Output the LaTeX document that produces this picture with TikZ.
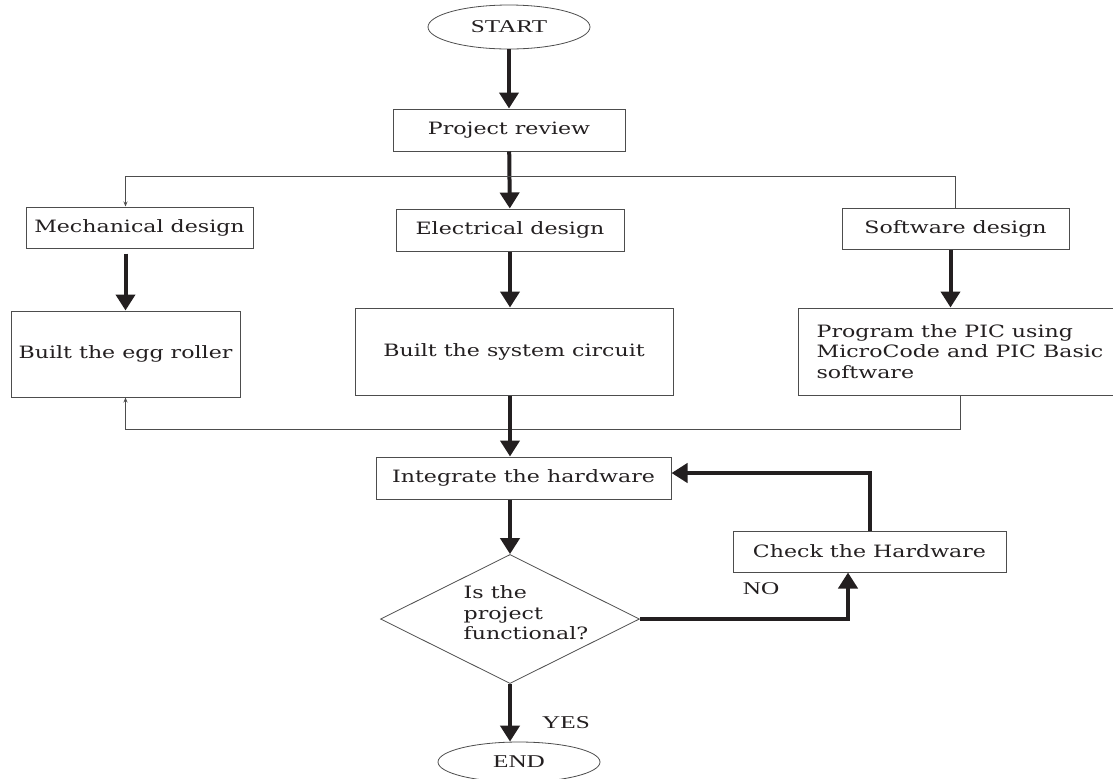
\documentclass[tikz,border=0pt]{standalone}
\usepackage{fontspec}
\usepackage{tikz}
\usetikzlibrary{shapes.geometric,arrows.meta}
\newfontfamily\boxfont{DejaVu Serif}[FakeStretch=1.3]
\newfontfamily\termfont{Liberation Serif}[FakeStretch=1.4]
\definecolor{ink}{HTML}{231F20}
\definecolor{rule}{HTML}{4D4D4D}
\tikzset{
  box/.style={draw=rule,line width=0.5pt,rectangle,inner sep=0pt,text=ink,
    font=\boxfont\fontsize{8.5}{10.25}\selectfont},
  term/.style={draw=rule,line width=0.4pt,ellipse,inner sep=0pt,text=ink,
    minimum width=81pt,minimum height=22pt,font=\termfont\fontsize{9}{11}\selectfont},
  decision/.style={draw=rule,line width=0.4pt,diamond,inner sep=0pt,
    minimum width=129.5pt,minimum height=64.5pt},
  flow/.style={draw=ink,line width=2pt,-{Triangle[length=8pt,width=9.5pt]}},
  link/.style={draw=rule,line width=0.5pt},
  tip/.style={-{Stealth[length=2.5pt,width=2pt]}},
  tag/.style={inner sep=0pt,text=ink,font=\termfont\fontsize{9}{11}\selectfont}
}

\begin{document}
\begin{tikzpicture}[x=0.5pt,y=-0.5pt]
        \useasboundingbox (0,0) rectangle (1113,778);

        \node[term] (start) at (509,27) {START};
        \node[box,minimum width=116pt,minimum height=21pt] (review) at (509,130) {Project review};
        \node[box,minimum width=113.5pt,minimum height=20.5pt] (mech) at (139.5,227.5) {Mechanical design};
        \node[box,minimum width=114pt,minimum height=21pt] (elec) at (510,230) {Electrical design};
        \node[box,minimum width=113.5pt,minimum height=20.5pt] (soft) at (955.5,228.5) {Software design};
        \node[box,minimum width=114.5pt,minimum height=43pt] (roller) at (125.5,354) {Built the egg roller};
        \node[box,minimum width=159pt,minimum height=43.5pt] (circuit) at (514,351.5) {Built the system circuit};
        \node[box,minimum width=162pt,minimum height=43.5pt,align=left] (pic) at (960,351.5) {Program the PIC using\\MicroCode and PIC Basic\\software};
        \node[box,minimum width=147.5pt,minimum height=21pt] (integ) at (523.5,478) {Integrate the hardware};
        \node[box,minimum width=136.5pt,minimum height=20.5pt] (check) at (869.5,551.5) {Check the Hardware};
        \node[decision,label={[box,draw=none,align=left,xshift=8pt,yshift=3pt]center:Is the\\project\\functional?}] (dec) at (510,619) {};
        \node[term,minimum height=20pt] (end) at (519,762) {END};
        \node[tag] (no) at (761,589) {NO};
        \node[tag] (yes) at (566,723) {YES};

        \coordinate (split) at (510,176);
        \coordinate (join) at (510,429);

        \draw[flow] (start) -- (review);
        \draw[flow] (review) -- (elec);
        \draw[link,tip] (split) -| (mech.north -| roller);
        \draw[link] (split) -| (soft.north);
        \draw[flow] ([yshift=-2.5pt]mech.south -| roller) -- (roller.north);
        \draw[flow] (elec) -- (elec |- circuit.north);
        \draw[flow] ([xshift=-2.5pt]soft.south) -- ([xshift=-2.5pt]soft.south |- pic.north);
        \draw[link,tip] (join) -| (roller.south);
        \draw[link] (join) -| (pic.south);
        \draw[flow] (circuit.south -| elec) -- (integ.north -| elec);
        \draw[flow] (integ.south -| dec) -- (dec.north);
        \draw[flow] (dec.south) -- (dec.south |- end.north);
        \draw[flow] (dec.east) -| ([xshift=-10.75pt]check.south);
        \draw[flow] (check.north) |- ([yshift=2.5pt]integ.east);
      \end{tikzpicture}
\end{document}
